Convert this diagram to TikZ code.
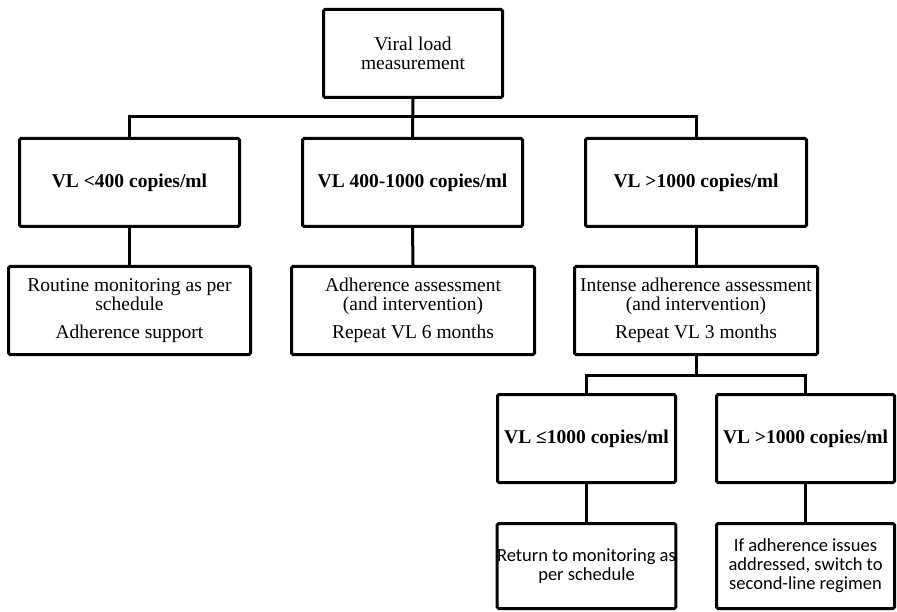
\documentclass[tikz,border=0pt]{standalone}
\usepackage{fontspec}
\setmainfont{Liberation Serif}
\newfontfamily\calib{Carlito}
\begin{document}
\begin{tikzpicture}[x=1pt,y=-1pt,
  box/.style={draw, line width=3pt, rounded corners=1.5pt, inner sep=0pt, align=center,
    font=\fontsize{19.5}{19}\selectfont},
  bbox/.style={box, font=\fontsize{19.5}{19}\selectfont\bfseries},
  sbox/.style={box, font=\fontsize{18.5}{19}\selectfont\calib},
  link/.style={line width=3pt}]
\useasboundingbox (0,0) rectangle (897,612);
% top
\node[box, minimum width=179pt, minimum height=88pt] (top) at (413,53.5) {Viral load\\measurement};
% row 2
\node[bbox, minimum width=220pt, minimum height=88pt] (a) at (129.5,182.5) {VL <400 copies/ml};
\node[bbox, minimum width=220pt, minimum height=88pt] (b) at (412.5,182.5) {VL 400-1000 copies/ml};
\node[bbox, minimum width=221pt, minimum height=88pt] (c) at (696,182.5) {VL >1000 copies/ml};
% row 3
\node[box, minimum width=242pt, minimum height=88pt] (a3) at (129.5,310.5) {Routine monitoring as per\\schedule\\[9pt]Adherence support};
\node[box, minimum width=243pt, minimum height=88pt] (b3) at (413,310.5) {Adherence assessment\\(and intervention)\\[9pt]Repeat VL 6 months};
\node[box, minimum width=243pt, minimum height=88pt] (c3) at (696,310.5) {Intense adherence assessment\\(and intervention)\\[9pt]Repeat VL 3 months};
% row 4
\node[bbox, minimum width=178pt, minimum height=88pt] (d) at (586.5,438.5) {VL ≤1000 copies/ml};
\node[bbox, minimum width=178pt, minimum height=88pt] (e) at (805.5,438.5) {VL >1000 copies/ml};
% row 5
\node[sbox, minimum width=178pt, minimum height=85pt] (d5) at (586.5,566) {Return to monitoring as\\per schedule};
\node[sbox, minimum width=178pt, minimum height=85pt] (e5) at (805.5,566) {If adherence issues\\addressed, switch to\\second-line regimen};
% connectors
\coordinate (bar1) at (413,117);
\coordinate (bar2) at (696,375);
\draw[link] (top.south) -- (b.north);
\draw[link] (a.north) |- (bar1) -| (c.north);
\draw[link] (a.south) -- (a3.north);
\draw[link] (b.south) -- (b3.north);
\draw[link] (c.south) -- (c3.north);
\draw[link] (c3.south) -- (bar2);
\draw[link] (d.north) |- (bar2) -| (e.north);
\draw[link] (d.south) -- (d5.north);
\draw[link] (e.south) -- (e5.north);
\end{tikzpicture}
\end{document}
